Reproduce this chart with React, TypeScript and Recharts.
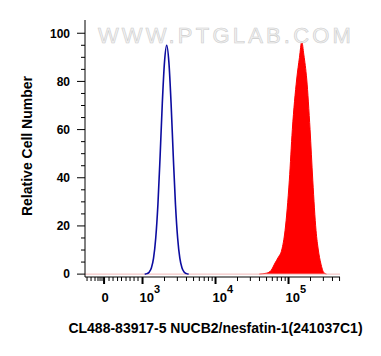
import React from 'react';
import { ComposedChart, Area, Line, XAxis, YAxis, Label, ReferenceLine } from 'recharts';

const FONT = '"Liberation Sans", Arial, Helvetica, sans-serif';

// X axis in display units (decades above 10^3; compressed logicle region near 0)
const xDomain: [number, number] = [2.212, 5.705];
const majorTicks = [2.473, 3, 4, 5];
const majorLabels = ['0', '3', '4', '5'];
const minorTicks = [
  2.24, 2.295, 2.349, 2.39, 2.418, 2.445, 2.541, 2.596, 2.658, 2.712, 2.774, 2.829, 2.884, 2.938,
  3.301, 3.477, 3.602, 3.699, 3.778, 3.845, 3.903, 3.954,
  4.301, 4.477, 4.602, 4.699, 4.778, 4.845, 4.903, 4.954,
  5.301, 5.477, 5.602, 5.699,
];
const yTicks = [0, 5, 10, 15, 20, 25, 30, 35, 40, 45, 50, 55, 60, 65, 70, 75, 80, 85, 90, 95, 100];
const yMajorLabels = [0, 20, 40, 60, 80, 100];

// Isotype control (blue outline)
const blueX = [3.03, 3.061, 3.091, 3.121, 3.151, 3.181, 3.211, 3.241, 3.271, 3.301, 3.331, 3.361, 3.391, 3.421, 3.451, 3.481, 3.511, 3.541, 3.571, 3.601, 3.631];
const blueY = [0, 0.2, 0.8, 2.5, 6.6, 15, 29, 49, 71, 88, 95, 88, 71, 49, 29, 15, 6.6, 2.5, 0.8, 0.2, 0];

// Stained sample (red filled)
const redX = [4.6, 4.7, 4.76, 4.815, 4.86, 4.907, 4.952, 5.011, 5.052, 5.112, 5.15, 5.181, 5.21, 5.249, 5.295, 5.332, 5.377, 5.408, 5.441, 5.486, 5.52];
const redY = [0, 0.4, 1.5, 4.6, 7, 10, 18, 39, 60, 81, 90, 96.5, 91, 81, 60, 39, 18, 10, 4.6, 0.5, 0];

const title = 'CL488-83917-5 NUCB2/nesfatin-1(241037C1)';
const yTitle = 'Relative Cell Number';
const watermark = 'WWW.PTGLAB.COM';

const blueData = blueX.map((x, i) => ({ x, y: blueY[i] }));
const redData = redX.map((x, i) => ({ x, y: redY[i] }));
const allXTicks = [...majorTicks, ...minorTicks].sort((a, b) => a - b);

const XTick = (props: any) => {
  const { x, y, payload } = props;
  const v = payload.value;
  const mi = majorTicks.indexOf(v);
  const major = mi >= 0;
  return (
    <g>
      <line x1={x} x2={x} y1={y} y2={y + (major ? 7 : 4)} stroke="#000" strokeWidth={major ? 2 : 1} />
      {mi === 0 && (
        <text x={x + 1} y={y + 24.5} textAnchor="middle" fontFamily={FONT} fontWeight="bold" fontSize={13} fill="#000">
          0
        </text>
      )}
      {mi > 0 && (
        <text x={x - 3} y={y + 24.5} textAnchor="start" fontFamily={FONT} fontWeight="bold" fontSize={13} fill="#000">
          10
          <tspan dy={-9} fontSize={11}>{majorLabels[mi]}</tspan>
        </text>
      )}
    </g>
  );
};

const YTick = (props: any) => {
  const { x, y, payload } = props;
  const v = payload.value;
  const major = yMajorLabels.indexOf(v) >= 0;
  return (
    <g>
      <line x1={x - (major ? 8 : 4)} x2={x} y1={y} y2={y} stroke="#000" strokeWidth={1} />
      {major && (
        <text x={x - 15} y={y} dy="0.36em" textAnchor="end" fontFamily={FONT} fontWeight="bold" fontSize={12} fill="#000">
          {v}
        </text>
      )}
    </g>
  );
};

export default function App() {
  return (
    <div style={{ position: 'absolute', left: 0, top: 0, width: 381, height: 356, background: '#fff' }}>
      <ComposedChart width={381} height={356} margin={{ top: 20, right: 41, bottom: 49, left: 0 }}>
        <XAxis
          dataKey="x"
          type="number"
          domain={xDomain}
          allowDataOverflow
          ticks={allXTicks}
          interval={0}
          tick={<XTick />}
          tickLine={false}
          tickSize={0}
          tickMargin={0}
          height={30}
          axisLine={{ stroke: '#000', strokeWidth: 1 }}
        >
          <Label
            content={() => (
              <text x={215.5} y={333} textAnchor="middle" fontFamily={FONT} fontWeight="bold" fontSize={14} fill="#000">
                {title}
              </text>
            )}
          />
        </XAxis>
        <XAxis
          xAxisId="top"
          orientation="top"
          dataKey="x"
          type="number"
          domain={xDomain}
          allowDataOverflow
          tick={false}
          tickLine={false}
          height={0}
          axisLine={{ stroke: '#000', strokeWidth: 1 }}
        />
        <YAxis
          type="number"
          domain={[-1.2, 105.5]}
          allowDataOverflow
          ticks={yTicks}
          interval={0}
          tick={<YTick />}
          tickLine={false}
          tickSize={0}
          tickMargin={0}
          width={85}
          axisLine={{ stroke: '#000', strokeWidth: 1 }}
        >
          <Label
            content={() => (
              <text
                x={0}
                y={0}
                transform="translate(32,146) rotate(-90)"
                textAnchor="middle"
                fontFamily={FONT}
                fontWeight="bold"
                fontSize={14}
                fill="#000"
              >
                {yTitle}
              </text>
            )}
          />
        </YAxis>
        <YAxis
          yAxisId="right"
          orientation="right"
          type="number"
          domain={[-1.2, 105.5]}
          tick={false}
          tickLine={false}
          width={0}
          axisLine={{ stroke: '#000', strokeWidth: 1 }}
        />
        <ReferenceLine y={0} stroke="#f0b8b8" strokeWidth={1} ifOverflow="extendDomain" />
        <Area
          data={redData}
          dataKey="y"
          type="monotone"
          fill="#ff0000"
          fillOpacity={1}
          stroke="#ff0000"
          strokeWidth={1}
          isAnimationActive={false}
          dot={false}
          activeDot={false}
        />
        <Line
          data={blueData}
          dataKey="y"
          type="monotone"
          stroke="#0c0ca0"
          strokeWidth={1.6}
          dot={false}
          activeDot={false}
          isAnimationActive={false}
        />
      </ComposedChart>
      <svg width={381} height={356} style={{ position: 'absolute', left: 0, top: 0, pointerEvents: 'none' }}>
        <text
          x={226}
          y={43}
          textAnchor="middle"
          fontFamily={FONT}
          fontSize={22}
          letterSpacing={3.2}
          fill="#f2f2f2"
          stroke="#cccccc"
          strokeWidth={0.6}
        >
          {watermark}
        </text>
      </svg>
    </div>
  );
}
